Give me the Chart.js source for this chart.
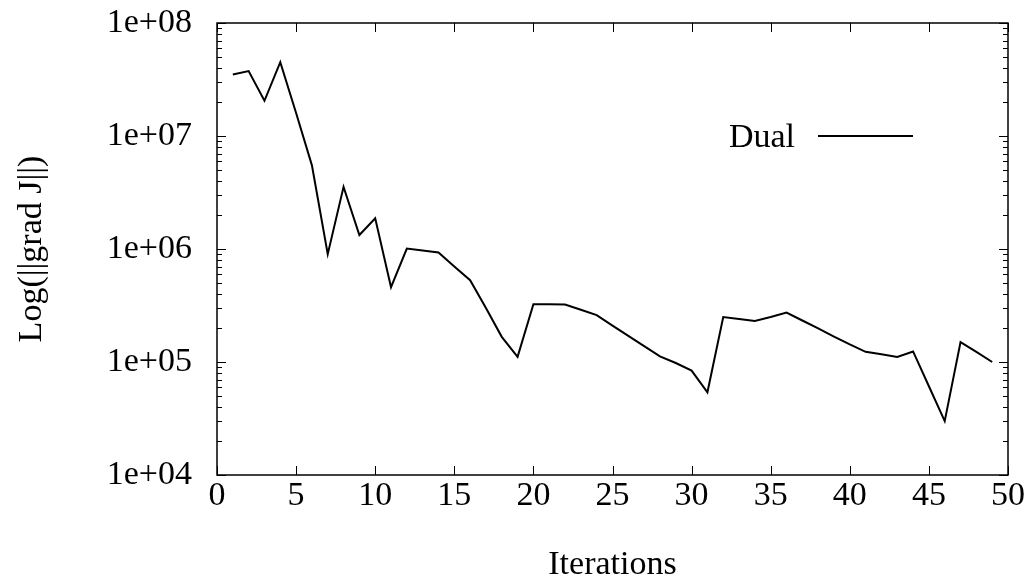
<!DOCTYPE html>
<html>
<head>
<meta charset="utf-8">
<script src="https://cdn.jsdelivr.net/npm/chart.js@4.4.0/dist/chart.umd.min.js"></script>
<style>
  html, body { margin: 0; padding: 0; background: #fff; }
  #wrap { width: 1032px; height: 585px; }
</style>
</head>
<body>
<div id="wrap"><canvas id="chartGrad"></canvas></div>
<script>
// valeurs
const iterations = [1, 2, 3, 4, 5, 6, 7, 8, 9, 10,
  11, 12, 13, 14, 15, 16, 17, 18, 19, 20,
  21, 22, 23, 24, 25, 26, 27, 28, 29, 30,
  31, 32, 33, 34, 35, 36, 37, 38, 39, 40,
  41, 42, 43, 44, 45, 46, 47, 48, 49]
const gradNorm = [3.5e7, 3.75e7, 2.05e7, 4.5e7, 1.6e7, 5.5e6, 9.0e5, 3.55e6, 1.33e6, 1.87e6,
  4.6e5, 1.01e6, 9.7e5, 9.3e5, 7.0e5, 5.3e5, 3.0e5, 1.67e5, 1.11e5, 3.25e5,
  3.25e5, 3.22e5, 2.9e5, 2.6e5, 2.1e5, 1.7e5, 1.38e5, 1.12e5, 9.8e4, 8.4e4,
  5.4e4, 2.5e5, 2.4e5, 2.31e5, 2.5e5, 2.74e5, 2.33e5, 1.98e5, 1.68e5, 1.43e5,
  1.23e5, 1.17e5, 1.11e5, 1.24e5, 6.1e4, 3.0e4, 1.5e5, 1.23e5, 1.0e5]

const xTickValues = [0, 5, 10, 15, 20, 25, 30, 35, 40, 45, 50]
const yTickValues = [1e4, 1e5, 1e6, 1e7, 1e8]
const yTickLabels = ["1e+04", "1e+05", "1e+06", "1e+07", "1e+08"]

const seriesName = "Dual"
const xTitle = "Iterations"
const yTitle = "Log(||grad J||)"

const fontMain = { family: "'Liberation Serif', 'Times New Roman', serif", size: 34 }

// cadre + graduations vers l'intérieur (style gnuplot) + légende
const gnuplotFrame = {
  id: 'gnuplotFrame',
  afterDatasetsDraw(chart) {
    const { ctx, chartArea: a, scales: { x, y } } = chart
    ctx.save()
    ctx.strokeStyle = '#000'
    ctx.lineWidth = 1
    ctx.beginPath()
    xTickValues.forEach(v => {
      const px = Math.round(x.getPixelForValue(v)) + 0.5
      ctx.moveTo(px, a.bottom); ctx.lineTo(px, a.bottom - 9)
      ctx.moveTo(px, a.top); ctx.lineTo(px, a.top + 9)
    })
    yTickValues.forEach((v, i) => {
      const py = Math.round(y.getPixelForValue(v)) + 0.5
      ctx.moveTo(a.left, py); ctx.lineTo(a.left + 9, py)
      ctx.moveTo(a.right, py); ctx.lineTo(a.right - 9, py)
      if (i < yTickValues.length - 1) {
        for (let k = 2; k < 10; k++) {
          const pm = Math.round(y.getPixelForValue(k * v)) + 0.5
          ctx.moveTo(a.left, pm); ctx.lineTo(a.left + 5, pm)
          ctx.moveTo(a.right, pm); ctx.lineTo(a.right - 5, pm)
        }
      }
    })
    ctx.stroke()

    ctx.lineWidth = 1.5
    ctx.strokeRect(a.left, a.top, a.right - a.left, a.bottom - a.top)

    // légende
    const ds = chart.data.datasets[0]
    const ly = a.top + 113
    const lineEnd = a.right - 95
    const lineStart = lineEnd - 95
    ctx.lineWidth = ds.borderWidth
    ctx.strokeStyle = ds.borderColor
    ctx.beginPath()
    ctx.moveTo(lineStart, ly); ctx.lineTo(lineEnd, ly)
    ctx.stroke()
    ctx.fillStyle = '#000'
    ctx.font = fontMain.size + 'px ' + fontMain.family
    ctx.textAlign = 'right'
    ctx.textBaseline = 'middle'
    ctx.fillText(ds.label, lineStart - 23, ly + 2)
    ctx.restore()
  }
}

new Chart(document.getElementById('chartGrad'), {
  type: 'line',
  data: {
    datasets: [{
      label: seriesName,
      data: iterations.map((it, i) => ({ x: it, y: gradNorm[i] })),
      borderColor: '#000',
      borderWidth: 2,
      pointRadius: 0,
      tension: 0,
      fill: false
    }]
  },
  options: {
    responsive: true,
    maintainAspectRatio: false,
    animation: false,
    layout: { padding: { top: 23, right: 24, left: 0, bottom: 0 } },
    plugins: { legend: { display: false }, tooltip: { enabled: false } },
    scales: {
      x: {
        type: 'linear',
        min: 0,
        max: 50,
        afterBuildTicks: s => { s.ticks = xTickValues.map(v => ({ value: v })) },
        afterFit: s => { s.height = 110; s.paddingLeft = 0; s.paddingRight = 0 },
        grid: { display: false },
        border: { display: false },
        ticks: { font: fontMain, color: '#000', padding: -7, maxRotation: 0, autoSkip: false },
        title: { display: true, text: xTitle, font: fontMain, color: '#000', padding: { top: 0, bottom: 0 } }
      },
      y: {
        type: 'logarithmic',
        min: 1e4,
        max: 1e8,
        afterBuildTicks: s => { s.ticks = yTickValues.map(v => ({ value: v })) },
        afterFit: s => { s.width = 217; s.paddingTop = 0; s.paddingBottom = 0 },
        grid: { display: false },
        border: { display: false },
        ticks: {
          font: fontMain, color: '#000', padding: 17, autoSkip: false,
          callback: (v, i) => yTickLabels[i]
        },
        title: { display: true, text: yTitle, font: fontMain, color: '#000', padding: { top: 12, bottom: 0 } }
      }
    }
  },
  plugins: [gnuplotFrame]
})
</script>
</body>
</html>
